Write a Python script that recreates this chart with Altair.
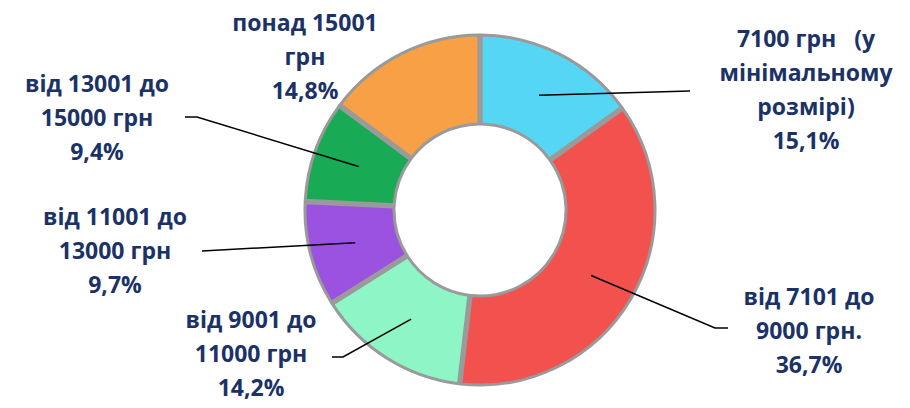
import math
import altair as alt
import pandas as pd

# ---- data ----
categories = [
    "7100 грн (у мінімальному розмірі)",
    "від 7101 до 9000 грн.",
    "від 9001 до 11000 грн",
    "від 11001 до 13000 грн",
    "від 13001 до 15000 грн",
    "понад 15001 грн",
]
shares = [15.1, 36.7, 14.2, 9.7, 9.4, 14.8]
pct_labels = ["15,1%", "36,7%", "14,2%", "9,7%", "9,4%", "14,8%"]
label_lines = [
    ["7100 грн\u00a0\u00a0\u00a0(у", "мінімальному", "розмірі)"],
    ["від 7101 до", "9000 грн."],
    ["від 9001 до", "11000 грн"],
    ["від 11001 до", "13000 грн"],
    ["від 13001 до", "15000 грн"],
    ["понад 15001", "грн"],
]
colors = ["#55D6F5", "#F2514D", "#8DF5C6", "#9B52E0", "#19AA55", "#F7A046"]

# ---- layout ----
W, H = 894, 392
CX, CY = 472, 202
R_OUT, R_IN, R_LEAD = 175, 86, 129
TEXT_COLOR = "#1B3267"
# (center x, first-line y)
label_pos = [(798, 32), (801, 290), (243, 313), (107, 210), (89, 77), (297, 16)]
leader_ends = [
    [(682, 83)],
    [(707, 320), (720, 320)],
    [(335, 349), (324, 349)],
    [(194, 243)],
    [(189, 109), (177, 109)],
    [],
]

slices = pd.DataFrame({"cat": categories, "value": shares, "idx": range(len(shares))})

labels = pd.DataFrame({
    "text": ["\n".join(lines + [p]) for lines, p in zip(label_lines, pct_labels)],
    "x": [p[0] for p in label_pos],
    "y": [p[1] for p in label_pos],
})

total = sum(shares)
rows = []
cum = 0.0
for i, v in enumerate(shares):
    mid = (cum + v / 2) / total * 2 * math.pi
    cum += v
    if not leader_ends[i]:
        continue
    pts = [(CX + R_LEAD * math.sin(mid), CY - R_LEAD * math.cos(mid))] + leader_ends[i]
    for s, (px, py) in enumerate(pts):
        rows.append({"id": i, "seq": s, "x": px, "y": py})
leaders = pd.DataFrame(rows)

xs = alt.Scale(domain=[0, W], range=[0, W], nice=False, zero=False)
ys = alt.Scale(domain=[0, H], range=[0, H], nice=False, zero=False)

arcs = alt.Chart(slices).mark_arc(
    outerRadius=R_OUT, innerRadius=R_IN, stroke="#9a9a9a", strokeWidth=3, padAngle=0.012
).encode(
    theta=alt.Theta("value:Q", stack=True),
    color=alt.Color("cat:N", scale=alt.Scale(domain=categories, range=colors), legend=None),
    order=alt.Order("idx:Q"),
    x=alt.value(CX),
    y=alt.value(CY),
)

lines = alt.Chart(leaders).mark_line(color="black", strokeWidth=1.5).encode(
    x=alt.X("x:Q", scale=xs, axis=None),
    y=alt.Y("y:Q", scale=ys, axis=None),
    detail="id:N",
    order="seq:Q",
)

texts = alt.Chart(labels).mark_text(
    lineBreak="\n", lineHeight=34, font="Open Sans", fontWeight="bold", fontSize=23,
    color=TEXT_COLOR, align="center", baseline="middle",
).encode(
    x=alt.X("x:Q", scale=xs, axis=None),
    y=alt.Y("y:Q", scale=ys, axis=None),
    text="text:N",
)

chart = alt.layer(arcs, lines, texts).properties(
    width=W, height=H, autosize=alt.AutoSizeParams(type="none"), padding=0
).configure_view(stroke=None)

chart.save("out.html", embed_options={"renderer": "svg", "actions": False})
